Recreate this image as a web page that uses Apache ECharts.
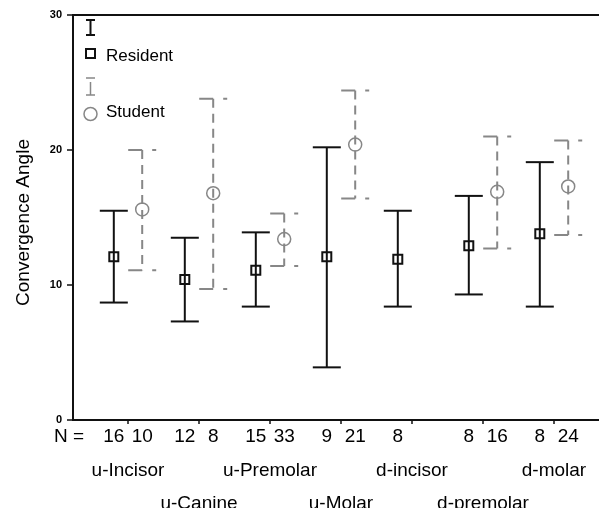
<!DOCTYPE html>
<html>
<head>
<meta charset="utf-8">
<script src="https://cdn.jsdelivr.net/npm/echarts@6/dist/echarts.min.js"></script>
<style>
  html, body { margin: 0; padding: 0; background: #fff; }
  #chart { width: 599px; height: 508px; }
</style>
</head>
<body>
<div id="chart"></div>
<script>
// 数据
const groups = ['u-Incisor', 'u-Canine', 'u-Premolar', 'u-Molar', 'd-incisor', 'd-premolar', 'd-molar'];
const residentMean = [12.1, 10.4, 11.1, 12.1, 11.9, 12.9, 13.8];
const residentLow = [8.7, 7.3, 8.4, 3.9, 8.4, 9.3, 8.4];
const residentHigh = [15.5, 13.5, 13.9, 20.2, 15.5, 16.6, 19.1];
const residentN = [16, 12, 15, 9, 8, 8, 8];
const studentMean = [15.6, 16.8, 13.4, 20.4, null, 16.9, 17.3];
const studentLow = [11.1, 9.7, 11.4, 16.4, null, 12.7, 13.7];
const studentHigh = [20.0, 23.8, 15.3, 24.4, null, 21.0, 20.7];
const studentN = [10, 8, 33, 21, null, 16, 24];
const yTicks = [0, 10, 20, 30];

const FONT = 'Liberation Sans, Arial, sans-serif';
const GREY = '#878787';

const chart = echarts.init(document.getElementById('chart'));

const residentData = groups.map((g, i) => [i + 1, residentMean[i], residentLow[i], residentHigh[i]]);
const studentData = [];
groups.forEach((g, i) => {
  if (studentMean[i] != null) studentData.push([i + 1, studentMean[i], studentLow[i], studentHigh[i]]);
});

// N 标签的位置（左：Resident，右：Student）
const nPositions = [];
groups.forEach((g, i) => {
  nPositions.push(i + 1 - 0.2);
  if (studentN[i] != null) nPositions.push(i + 1 + 0.2);
});

function errorBar(kind) {
  return function (params, api) {
    const offset = kind === 'resident' ? -0.2 : 0.2;
    const xv = api.value(0) + offset;
    const x = api.coord([xv, 0])[0];
    const yMean = api.coord([xv, api.value(1)])[1];
    const yLow = api.coord([xv, api.value(2)])[1];
    const yHigh = api.coord([xv, api.value(3)])[1];
    const half = 14;
    if (kind === 'resident') {
      const st = { stroke: '#111', lineWidth: 2, fill: null };
      return {
        type: 'group',
        children: [
          { type: 'line', shape: { x1: x, y1: yHigh, x2: x, y2: yLow }, style: st },
          { type: 'line', shape: { x1: x - half, y1: yHigh, x2: x + half, y2: yHigh }, style: st },
          { type: 'line', shape: { x1: x - half, y1: yLow, x2: x + half, y2: yLow }, style: st },
          { type: 'rect', shape: { x: x - 4.5, y: yMean - 4.5, width: 9, height: 9 }, style: { stroke: '#111', lineWidth: 2, fill: 'none' } }
        ]
      };
    }
    const capStyle = { stroke: GREY, lineWidth: 2, fill: null, lineDash: [14, 10] };
    return {
      type: 'group',
      children: [
        { type: 'line', shape: { x1: x, y1: yHigh, x2: x, y2: yLow }, style: { stroke: GREY, lineWidth: 2, lineDash: [9, 6] } },
        { type: 'line', shape: { x1: x - half, y1: yHigh, x2: x + half, y2: yHigh }, style: capStyle },
        { type: 'line', shape: { x1: x - half, y1: yLow, x2: x + half, y2: yLow }, style: capStyle },
        { type: 'circle', shape: { cx: x, cy: yMean, r: 6.5 }, style: { stroke: GREY, lineWidth: 1.5, fill: 'none' } }
      ]
    };
  };
}

const xMin = 1 - 55 / 71;
const xMax = 1 + 475 / 71;

// 分组名称分两行交错显示
function nameAxis(rowIndex, margin) {
  return {
    type: 'value', position: 'bottom', min: xMin, max: xMax,
    splitLine: { show: false },
    axisLine: { show: false },
    axisTick: { show: false },
    axisLabel: {
      customValues: groups.map((g, i) => i + 1).filter((v, i) => i % 2 === rowIndex),
      showMinLabel: true,
      showMaxLabel: true,
      margin: margin,
      color: '#000', fontFamily: FONT, fontSize: 19,
      formatter: function (v) {
        return groups[Math.round(v) - 1];
      }
    }
  };
}

const option = {
  animation: false,
  backgroundColor: '#fff',
  grid: {
    left: 73, right: -4, top: 15, bottom: 88,
    show: true, borderColor: '#111', borderWidth: 2,
    outerBoundsMode: 'none'
  },
  xAxis: [
    {
      type: 'value', position: 'bottom', min: xMin, max: xMax,
      splitLine: { show: false },
      axisLine: { lineStyle: { color: '#111', width: 2 } },
      axisTick: { show: true, length: 4, customValues: groups.map((g, i) => i + 1), lineStyle: { color: '#111', width: 1.5 } },
      axisLabel: {
        customValues: nPositions,
        margin: 7,
        color: '#000', fontFamily: FONT, fontSize: 19,
        formatter: function (v) {
          const i = Math.round(v) - 1;
          return String(v < i + 1 ? residentN[i] : studentN[i]);
        }
      },
      name: 'N =',
      nameLocation: 'start',
      nameGap: -11,
      nameTextStyle: { color: '#000', fontFamily: FONT, fontSize: 19, align: 'right', verticalAlign: 'top', padding: [7, 0, 0, 0] }
    },
    nameAxis(0, 41),
    nameAxis(1, 74)
  ],
  yAxis: {
    type: 'value', min: yTicks[0], max: yTicks[yTicks.length - 1], interval: 10,
    splitLine: { show: false },
    axisLine: { show: true, lineStyle: { color: '#111', width: 2 } },
    axisTick: { show: true, length: 6, lineStyle: { color: '#111', width: 1.5 } },
    axisLabel: { margin: 11, color: '#000', fontFamily: FONT, fontSize: 11, fontWeight: 'bold' },
    name: 'Convergence Angle',
    nameLocation: 'middle',
    nameGap: 40,
    nameTextStyle: { color: '#000', fontFamily: FONT, fontSize: 19, padding: [0, 10, 0, 0] }
  },
  series: [
    { name: 'Resident', type: 'custom', xAxisIndex: 0, renderItem: errorBar('resident'), data: residentData, encode: { x: 0, y: [1, 2, 3] } },
    { name: 'Student', type: 'custom', xAxisIndex: 0, renderItem: errorBar('student'), data: studentData, encode: { x: 0, y: [1, 2, 3] } }
  ],
  // 图例（误差条图标 + 标记）
  graphic: [
    { type: 'line', shape: { x1: 90.5, y1: 20, x2: 90.5, y2: 35 }, style: { stroke: '#111', lineWidth: 2 } },
    { type: 'line', shape: { x1: 86, y1: 20, x2: 95, y2: 20 }, style: { stroke: '#111', lineWidth: 2 } },
    { type: 'line', shape: { x1: 86, y1: 35, x2: 95, y2: 35 }, style: { stroke: '#111', lineWidth: 2 } },
    { type: 'rect', shape: { x: 86, y: 49, width: 9, height: 9 }, style: { stroke: '#111', lineWidth: 2, fill: 'none' } },
    { type: 'text', x: 106, y: 56, style: { text: 'Resident', fill: '#000', font: '17px ' + FONT, verticalAlign: 'middle' } },
    { type: 'line', shape: { x1: 86, y1: 78, x2: 95, y2: 78 }, style: { stroke: GREY, lineWidth: 1.5 } },
    { type: 'line', shape: { x1: 90.5, y1: 82, x2: 90.5, y2: 95 }, style: { stroke: GREY, lineWidth: 1.5 } },
    { type: 'line', shape: { x1: 86, y1: 95, x2: 95, y2: 95 }, style: { stroke: GREY, lineWidth: 1.5 } },
    { type: 'circle', shape: { cx: 90.5, cy: 114, r: 6.5 }, style: { stroke: GREY, lineWidth: 1.5, fill: 'none' } },
    { type: 'text', x: 106, y: 112, style: { text: 'Student', fill: '#000', font: '17px ' + FONT, verticalAlign: 'middle' } }
  ]
};
option && chart.setOption(option);
</script>
</body>
</html>
